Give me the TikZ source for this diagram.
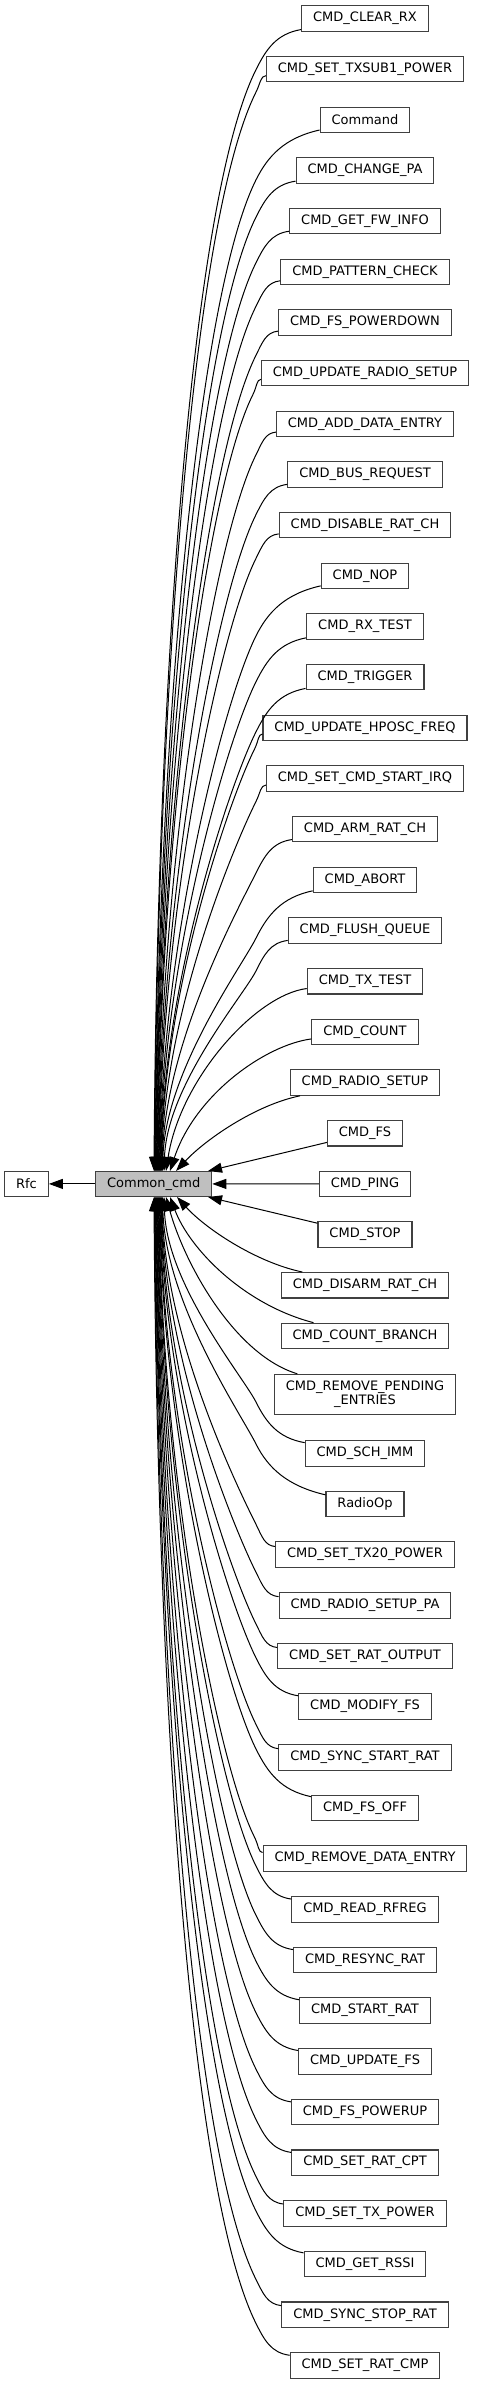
\documentclass[tikz,border=0pt]{standalone}
\usepackage{fontspec}
\setmainfont{DejaVu Sans}
\usetikzlibrary{arrows.meta,calc}
\definecolor{bordercol}{HTML}{404040}
\definecolor{ccfill}{HTML}{BFBFBF}
\begin{document}
\begin{tikzpicture}[x=0.75pt,y=-0.75pt,
  box/.style={draw=bordercol, line width=0.8pt, fill=white, inner xsep=8.6pt, inner ysep=2pt,
    minimum height=19.1pt, font=\fontsize{9.75pt}{10.5pt}\selectfont, align=center},
  edge/.style={draw=black, line width=0.75pt, {Triangle[length=10.5pt,width=7.5pt]}-},
  edgeto/.style={draw=black, line width=0.75pt, -{Triangle[length=10.5pt,width=7.5pt]}}]
\useasboundingbox (0,0) rectangle (476,2384);
\node[box] (rfc) at (26.5,1183.9) {Rfc};
\node[box, fill=ccfill] (cc) at (153.7,1183.9) {Common\_cmd};
\foreach \nd/\txt/\yy in {
 n1/CMD\_CLEAR\_RX/18.5,
 n2/CMD\_SET\_TXSUB1\_POWER/69.17,
 n3/Command/119.84,
 n4/CMD\_CHANGE\_PA/170.51,
 n5/CMD\_GET\_FW\_INFO/221.18,
 n6/CMD\_PATTERN\_CHECK/271.85,
 n7/CMD\_FS\_POWERDOWN/322.52,
 n8/CMD\_UPDATE\_RADIO\_SETUP/373.19,
 n9/CMD\_ADD\_DATA\_ENTRY/423.86,
 n10/CMD\_BUS\_REQUEST/474.53,
 n11/CMD\_DISABLE\_RAT\_CH/525.2,
 n12/CMD\_NOP/575.87,
 n13/CMD\_RX\_TEST/626.54,
 n14/CMD\_TRIGGER/677.21,
 n15/CMD\_UPDATE\_HPOSC\_FREQ/727.88,
 n16/CMD\_SET\_CMD\_START\_IRQ/778.55,
 n17/CMD\_ARM\_RAT\_CH/829.22,
 n18/CMD\_ABORT/879.89,
 n19/CMD\_FLUSH\_QUEUE/930.56,
 n20/CMD\_TX\_TEST/981.23,
 n21/CMD\_COUNT/1031.9,
 n22/CMD\_RADIO\_SETUP/1082.57,
 n23/CMD\_FS/1133.24,
 n24/CMD\_PING/1183.91,
 n25/CMD\_STOP/1234.58,
 n26/CMD\_DISARM\_RAT\_CH/1285.25,
 n27/CMD\_COUNT\_BRANCH/1335.92,
 n29/CMD\_SCH\_IMM/1453.3,
 n30/RadioOp/1503.97,
 n31/CMD\_SET\_TX20\_POWER/1554.64,
 n32/CMD\_RADIO\_SETUP\_PA/1605.31,
 n33/CMD\_SET\_RAT\_OUTPUT/1655.98,
 n34/CMD\_MODIFY\_FS/1706.65,
 n35/CMD\_SYNC\_START\_RAT/1757.32,
 n36/CMD\_FS\_OFF/1807.99,
 n37/CMD\_REMOVE\_DATA\_ENTRY/1858.66,
 n38/CMD\_READ\_RFREG/1909.33,
 n39/CMD\_RESYNC\_RAT/1960,
 n40/CMD\_START\_RAT/2010.67,
 n41/CMD\_UPDATE\_FS/2061.34,
 n42/CMD\_FS\_POWERUP/2112.01,
 n43/CMD\_SET\_RAT\_CPT/2162.68,
 n44/CMD\_SET\_TX\_POWER/2213.35,
 n45/CMD\_GET\_RSSI/2264.02,
 n46/CMD\_SYNC\_STOP\_RAT/2314.69,
 n47/CMD\_SET\_RAT\_CMP/2365.36}{
  \node[box] (\nd) at (365,\yy) {\txt};
}
\node[box, minimum height=29.8pt] (n28) at (365,1394.2) {CMD\_REMOVE\_PENDING\\\_ENTRIES};
% straight edges
\draw[edge] (rfc) -- (cc);
\coordinate (fsT) at (208,1171);
\coordinate (stT) at (208,1197);
\draw[edge] (fsT) -- (n23);
\draw[edge] (cc) -- (n24);
\draw[edge] (stT) -- (n25);
% short hand-tuned edges
\coordinate (t20) at (166,1171);
\coordinate (t21) at (170,1171);
\coordinate (t22) at (176,1171);
\coordinate (t26) at (177,1197);
\coordinate (t27) at (170,1197);
\coordinate (t28) at (166,1197);
\draw[edgeto] (n20) .. controls (255,995) and (180,1080) .. (t20);
\draw[edgeto] (n21) .. controls (265,1045) and (195,1095) .. (t21);
\draw[edgeto] (n22) .. controls (255,1105) and (205,1140) .. (t22);
\draw[edgeto] (n26) .. controls (255,1262) and (205,1228) .. (t26);
\draw[edgeto] (n27) .. controls (245,1305) and (190,1250) .. (t27);
\draw[edgeto] (n28) .. controls (235,1355) and (185,1265) .. (t28);
% long upper edges
\foreach \nd/\xt in {n1/154,n2/154.5,n3/155,n4/155.5,n5/156,n6/156.5,n7/157,n8/157.5,
  n9/158,n10/158.5,n11/159,n12/159.5,n13/160,n14/160.5,n15/161,n16/161.5,n17/162,
  n18/162.5,n19/164}{
  \draw[edgeto] let \p1=(\nd.west), \p2=(\xt,1171),
     \n1={\y1-\y2},
     \n5={min(\x1-6pt,192pt)},
     \n6={min(45pt,0.8*(\x1-\n5)+11.25pt,0.2*\n1)},
     \n7={\y1-\n6-\y2}
   in (\nd) .. controls ({\n5+0.45*(\x1-\n5)+0pt},{\y1-0.3*\n6}) and ({\n5+0.2*\n6+0pt},{\y1-0.6*\n6}) .. ({\n5+0pt},{\y1-\n6})
      .. controls ({\n5-0.06*\n7+0pt},{\y1-\n6-0.12*\n7}) and ({\x2+2.25pt},{\y2+0.43*\n7}) .. (\p2);
}
% long lower edges
\foreach \nd/\xt in {n29/164,n30/162.5,n31/162,n32/161.5,n33/161,
  n34/160.5,n35/160,n36/159.5,n37/159,n38/158.5,n39/158,n40/157.5,n41/157,n42/156.5,
  n43/156,n44/155.5,n45/155,n46/154.5,n47/154}{
  \draw[edgeto] let \p1=(\nd.west), \p2=(\xt,1197),
     \n1={\y2-\y1},
     \n5={min(\x1-6pt,192pt)},
     \n6={min(45pt,0.8*(\x1-\n5)+11.25pt,0.2*\n1)},
     \n7={\y2-\y1-\n6}
   in (\nd) .. controls ({\n5+0.45*(\x1-\n5)+0pt},{\y1+0.3*\n6}) and ({\n5+0.2*\n6+0pt},{\y1+0.6*\n6}) .. ({\n5+0pt},{\y1+\n6})
      .. controls ({\n5-0.06*\n7+0pt},{\y1+\n6+0.12*\n7}) and ({\x2+2.25pt},{\y2-0.43*\n7}) .. (\p2);
}
\end{tikzpicture}
\end{document}
